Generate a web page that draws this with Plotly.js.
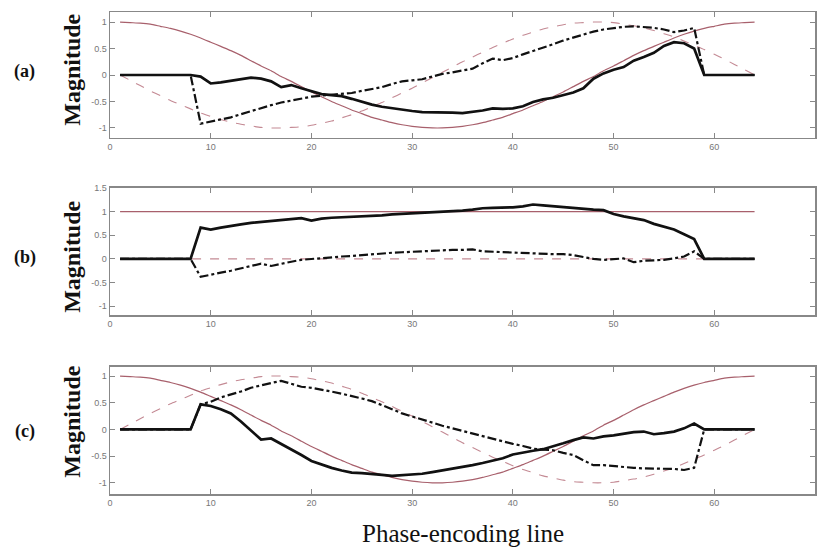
<!DOCTYPE html>
<html>
<head>
<meta charset="utf-8">
<script src="https://cdn.plot.ly/plotly-3.0.1.min.js"></script>
<style>html,body{margin:0;padding:0;background:#fff;}#chart{width:820px;height:550px;}</style>
</head>
<body>
<div id="chart"></div>
<script>
// phase-encoding lines
const lines = [1,2,3,4,5,6,7,8,9,10,11,12,13,14,15,16,17,18,19,20,21,22,23,24,25,26,27,28,29,30,31,32,
  33,34,35,36,37,38,39,40,41,42,43,44,45,46,47,48,49,50,51,52,53,54,55,56,57,58,59,60,61,62,63,64];
const blackLines = [1,8,9,10,11,12,13,14,15,16,17,18,19,20,21,22,23,24,25,26,27,28,29,30,31,32,33,34,35,36,
  37,38,39,40,41,42,43,44,45,46,47,48,49,50,51,52,53,54,55,56,57,58,59,64];
const flatLines = [1,64];

// reference (red) curves
const refCos = [1.00,0.99,0.98,0.96,0.92,0.88,0.83,0.77,0.70,0.62,0.54,0.46,0.37,0.27,0.17,0.08,-0.03,-0.12,-0.22,-0.32,-0.41,-0.50,-0.58,-0.66,-0.73,-0.80,-0.85,-0.90,-0.94,-0.97,-0.99,-1.00,
  -1.00,-0.99,-0.97,-0.94,-0.90,-0.85,-0.80,-0.73,-0.66,-0.58,-0.50,-0.41,-0.32,-0.22,-0.12,-0.03,0.08,0.17,0.27,0.37,0.46,0.54,0.62,0.70,0.77,0.83,0.88,0.92,0.96,0.98,0.99,1.00];
const refSinA = [0.00,-0.10,-0.20,-0.30,-0.39,-0.48,-0.56,-0.64,-0.72,-0.78,-0.84,-0.89,-0.93,-0.96,-0.99,-1.00,-1.00,-0.99,-0.98,-0.95,-0.91,-0.87,-0.81,-0.75,-0.68,-0.60,-0.52,-0.43,-0.34,-0.25,-0.15,-0.05,
  0.05,0.15,0.25,0.34,0.43,0.52,0.60,0.68,0.75,0.81,0.87,0.91,0.95,0.98,0.99,1.00,1.00,0.99,0.96,0.93,0.89,0.84,0.78,0.72,0.64,0.56,0.48,0.39,0.30,0.20,0.10,0.00];
const refSinC = [0.00,0.10,0.20,0.30,0.39,0.48,0.56,0.64,0.72,0.78,0.84,0.89,0.93,0.96,0.99,1.00,1.00,0.99,0.98,0.95,0.91,0.87,0.81,0.75,0.68,0.60,0.52,0.43,0.34,0.25,0.15,0.05,
  -0.05,-0.15,-0.25,-0.34,-0.43,-0.52,-0.60,-0.68,-0.75,-0.81,-0.87,-0.91,-0.95,-0.98,-0.99,-1.00,-1.00,-0.99,-0.96,-0.93,-0.89,-0.84,-0.78,-0.72,-0.64,-0.56,-0.48,-0.39,-0.30,-0.20,-0.10,0.00];
const refOneB = [1,1];
const refZeroB = [0,0];

// measured (black) curves
const solidA = [0,0,-0.03,-0.16,-0.14,-0.11,-0.08,-0.05,-0.07,-0.12,-0.23,-0.19,-0.25,-0.31,-0.36,-0.38,-0.40,-0.45,-0.51,-0.56,-0.60,-0.63,-0.66,-0.68,-0.70,-0.70,-0.70,-0.71,-0.72,-0.70,
  -0.67,-0.63,-0.64,-0.63,-0.59,-0.51,-0.46,-0.43,-0.38,-0.33,-0.25,-0.07,0.03,0.10,0.15,0.27,0.34,0.42,0.55,0.62,0.60,0.50,0.00,0.00];
const dashA = [0,0,-0.92,-0.88,-0.84,-0.80,-0.74,-0.68,-0.62,-0.57,-0.52,-0.48,-0.44,-0.41,-0.39,-0.37,-0.35,-0.34,-0.30,-0.26,-0.23,-0.17,-0.12,-0.10,-0.08,-0.03,0.02,0.05,0.08,0.12,
  0.22,0.31,0.28,0.32,0.39,0.45,0.52,0.58,0.65,0.71,0.77,0.82,0.86,0.89,0.91,0.92,0.91,0.89,0.86,0.81,0.84,0.89,0.00,0.00];
const solidB = [0,0,0.66,0.62,0.66,0.70,0.73,0.76,0.78,0.79,0.81,0.84,0.86,0.81,0.85,0.87,0.88,0.88,0.89,0.91,0.92,0.94,0.95,0.96,0.97,0.99,1.00,1.01,1.02,1.04,
  1.07,1.08,1.08,1.09,1.11,1.15,1.13,1.11,1.09,1.07,1.05,1.04,1.03,0.95,0.90,0.86,0.82,0.74,0.68,0.62,0.52,0.42,0.00,0.00];
const dashB = [0,0,-0.38,-0.33,-0.29,-0.25,-0.20,-0.16,-0.10,-0.15,-0.10,-0.06,-0.02,0.00,0.01,0.03,0.05,0.06,0.08,0.10,0.12,0.13,0.14,0.15,0.17,0.17,0.18,0.19,0.19,0.20,
  0.16,0.15,0.14,0.14,0.13,0.12,0.11,0.10,0.10,0.08,0.04,0.00,-0.02,-0.01,0.01,-0.07,-0.04,-0.03,-0.02,0.01,0.05,0.16,0.00,0.00];
const solidC = [0,0,0.47,0.44,0.38,0.30,0.15,-0.02,-0.19,-0.17,-0.27,-0.37,-0.48,-0.59,-0.66,-0.72,-0.77,-0.81,-0.82,-0.83,-0.85,-0.87,-0.86,-0.85,-0.83,-0.80,-0.77,-0.74,-0.71,-0.67,
  -0.63,-0.59,-0.54,-0.47,-0.43,-0.40,-0.37,-0.32,-0.26,-0.20,-0.15,-0.17,-0.13,-0.11,-0.08,-0.05,-0.04,-0.09,-0.07,-0.04,0.02,0.11,0.00,0.00];
const dashC = [0,0,0.47,0.52,0.60,0.65,0.71,0.78,0.83,0.87,0.91,0.85,0.80,0.78,0.75,0.71,0.67,0.63,0.58,0.53,0.46,0.38,0.30,0.24,0.18,0.12,0.07,0.02,-0.03,-0.08,
  -0.12,-0.17,-0.22,-0.27,-0.31,-0.36,-0.38,-0.39,-0.44,-0.48,-0.58,-0.67,-0.67,-0.69,-0.70,-0.72,-0.73,-0.73,-0.73,-0.74,-0.76,-0.72,0.00,0.00];

// tick labels
const xTicks = [0,10,20,30,40,50,60,70];
const xTickText = ['0','10','20','30','40','50','60','70'];
const yTicks = [-1,-0.5,0,0.5,1];
const yTickText = ['-1','-0.5','0','0.5','1'];
const yTicksB = [-1,-0.5,0,0.5,1,1.5];
const yTickTextB = ['-1','-0.5','0','0.5','1','1.5'];

const panelLabels = ['(a)','(b)','(c)'];
const yTitle = 'Magnitude';
const xTitle = 'Phase-encoding line';

const redSolid = {color:'#a8606c', width:1.2, shape:'spline', smoothing:0.6};
const redDash = {color:'#c48a94', width:1.1, dash:'dash', shape:'spline', smoothing:0.6};
const blkSolid = {color:'#111', width:2.7};
const blkDash = {color:'#111', width:2.2, dash:'dashdot'};

function tr(x, y, line, xa, ya){
  return {x:x, y:y, type:'scatter', mode:'lines', line:line, xaxis:xa, yaxis:ya, hoverinfo:'skip', showlegend:false};
}

const data = [
  tr(lines, refCos, redSolid, 'x', 'y'),
  tr(lines, refSinA, redDash, 'x', 'y'),
  tr(blackLines, dashA, blkDash, 'x', 'y'),
  tr(blackLines, solidA, blkSolid, 'x', 'y'),
  tr(flatLines, refOneB, redSolid, 'x2', 'y2'),
  tr(flatLines, refZeroB, redDash, 'x2', 'y2'),
  tr(blackLines, dashB, blkDash, 'x2', 'y2'),
  tr(blackLines, solidB, blkSolid, 'x2', 'y2'),
  tr(lines, refCos, redSolid, 'x3', 'y3'),
  tr(lines, refSinC, redDash, 'x3', 'y3'),
  tr(blackLines, dashC, blkDash, 'x3', 'y3'),
  tr(blackLines, solidC, blkSolid, 'x3', 'y3')
];

const tickFont = {family:'Liberation Sans, Arial, sans-serif', size:9, color:'#777'};
function xax(anchor){
  return {anchor:anchor, domain:[0,1], range:[0,70], tickvals:xTicks, ticktext:xTickText,
    ticks:'inside', ticklen:5, tickwidth:1, tickcolor:'#888', showline:true, linecolor:'#888', linewidth:1.5,
    mirror:'ticks', showgrid:false, zeroline:false, tickfont:tickFont, fixedrange:true};
}
function yax(anchor, dom, rng, tv, tt){
  return {anchor:anchor, domain:dom, range:rng, tickvals:tv, ticktext:tt,
    ticks:'inside', ticklen:5, tickwidth:1, tickcolor:'#888', showline:true, linecolor:'#888', linewidth:1.5,
    mirror:'ticks', showgrid:false, zeroline:false, tickfont:tickFont, fixedrange:true};
}

const serif = 'Liberation Serif, Times New Roman, serif';
function ann(text, x, y, size, angle, bold){
  return {text: bold ? '<b>'+text+'</b>' : text, xref:'paper', yref:'paper', x:x, y:y,
    xanchor:'center', yanchor:'middle', showarrow:false, textangle:angle,
    font:{family:serif, size:size, color:'#111'}};
}

const layout = {
  width:820, height:550,
  margin:{l:110, r:5, t:12, b:56},
  paper_bgcolor:'#fff', plot_bgcolor:'#fff',
  showlegend:false,
  xaxis: xax('y'),
  yaxis: yax('x', [0.7386,1], [-1.19,1.19], yTicks, yTickText),
  xaxis2: xax('y2'),
  yaxis2: yax('x2', [0.371,0.635], [-1.19,1.5], yTicksB, yTickTextB),
  xaxis3: xax('y3'),
  yaxis3: yax('x3', [0,0.2635], [-1.21,1.17], yTicks, yTickText),
  annotations: [
    ann(panelLabels[0], -0.121, 0.876, 18, 0, true),
    ann(panelLabels[1], -0.121, 0.490, 18, 0, true),
    ann(panelLabels[2], -0.121, 0.129, 18, 0, true),
    ann(yTitle, -0.054, 0.880, 24, -90, true),
    ann(yTitle, -0.054, 0.492, 24, -90, true),
    ann(yTitle, -0.054, 0.150, 24, -90, true),
    ann(xTitle, 0.50, -0.081, 25, 0, false)
  ]
};

Plotly.newPlot('chart', data, layout, {displayModeBar:false, staticPlot:true});
</script>
</body>
</html>
